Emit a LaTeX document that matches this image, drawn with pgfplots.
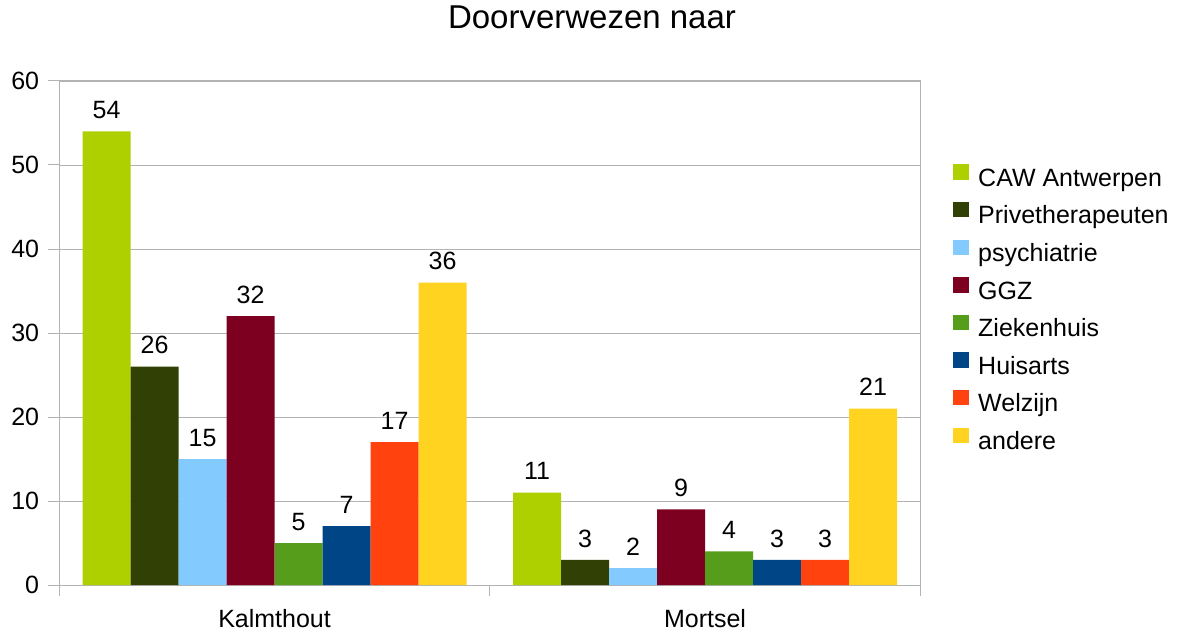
\documentclass[border=0pt]{standalone}
\usepackage{pgfplots}
\pgfplotsset{compat=1.18}
\usepackage{fontspec}
\setmainfont{Liberation Sans}
\definecolor{c1}{HTML}{AECF00}
\definecolor{c2}{HTML}{314004}
\definecolor{c3}{HTML}{83CAFF}
\definecolor{c4}{HTML}{7E0021}
\definecolor{c5}{HTML}{579D1C}
\definecolor{c6}{HTML}{004586}
\definecolor{c7}{HTML}{FF420E}
\definecolor{c8}{HTML}{FFD320}
\definecolor{axgray}{HTML}{B3B3B3}
\newcommand{\lbl}{\fontsize{25}{30}\selectfont}
\begin{document}
\begin{tikzpicture}
\begin{axis}[
  at={(0,0)}, anchor=south west,
  scale only axis,
  width=861pt, height=504pt,
  xmin=-0.5, xmax=1.5,
  ymin=0, ymax=60,
  ytick={0,10,...,60},
  xtick={0,1},
  xticklabels={Kalmthout,Mortsel},
  minor xtick={-0.5,0.5,1.5},
  major x tick style={draw=none},
  xtick pos=bottom, ytick pos=left,
  tick align=outside,
  major tick length=11pt,
  minor tick length=11pt,
  tick style={axgray, line width=1pt},
  axis line style={axgray, line width=1pt},
  ymajorgrids,
  grid style={axgray, line width=0.8pt},
  /pgf/number format/assume math mode=true,
  ticklabel style={font=\lbl},
  yticklabel style={inner sep=0pt, xshift=-9pt},
  xticklabel style={inner sep=0pt, anchor=base, yshift=-31.3pt},
  ybar=0pt,
  bar width=48pt,
  nodes near coords,
  nodes near coords style={font=\lbl, anchor=base, inner sep=0pt, yshift=12.7pt, text=black},
  title={Doorverwezen naar},
  title style={font=\fontsize{33}{40}\selectfont, at={(0.6187,1)}, anchor=base, yshift=46pt, inner sep=0pt},
  legend image code/.code={\path (0pt,0pt) (16pt,18pt); \fill[#1] (0pt,0pt) rectangle (16pt,15.5pt);},
  legend style={draw=none, fill=none, inner sep=0pt, at={(1.038,0.840)}, anchor=north west,
    font=\lbl, cells={anchor=base west}, column sep=9pt, row sep=8.1pt,
    nodes={inner sep=0pt, text height=18pt, text depth=5pt}},
  legend cell align=left,
  every axis plot/.append style={draw=none},
  clip=false,
]
\addplot[fill=c1] coordinates {(0,54) (1,11)};
\addplot[fill=c2] coordinates {(0,26) (1,3)};
\addplot[fill=c3] coordinates {(0,15) (1,2)};
\addplot[fill=c4] coordinates {(0,32) (1,9)};
\addplot[fill=c5] coordinates {(0,5) (1,4)};
\addplot[fill=c6] coordinates {(0,7) (1,3)};
\addplot[fill=c7] coordinates {(0,17) (1,3)};
\addplot[fill=c8] coordinates {(0,36) (1,21)};
\legend{CAW Antwerpen,Privetherapeuten,psychiatrie,GGZ,Ziekenhuis,Huisarts,Welzijn,andere}
\end{axis}
\pgfresetboundingbox
\path[use as bounding box] (-59.3pt,-50pt) rectangle (1120.7pt,585pt);
\end{tikzpicture}
\end{document}
